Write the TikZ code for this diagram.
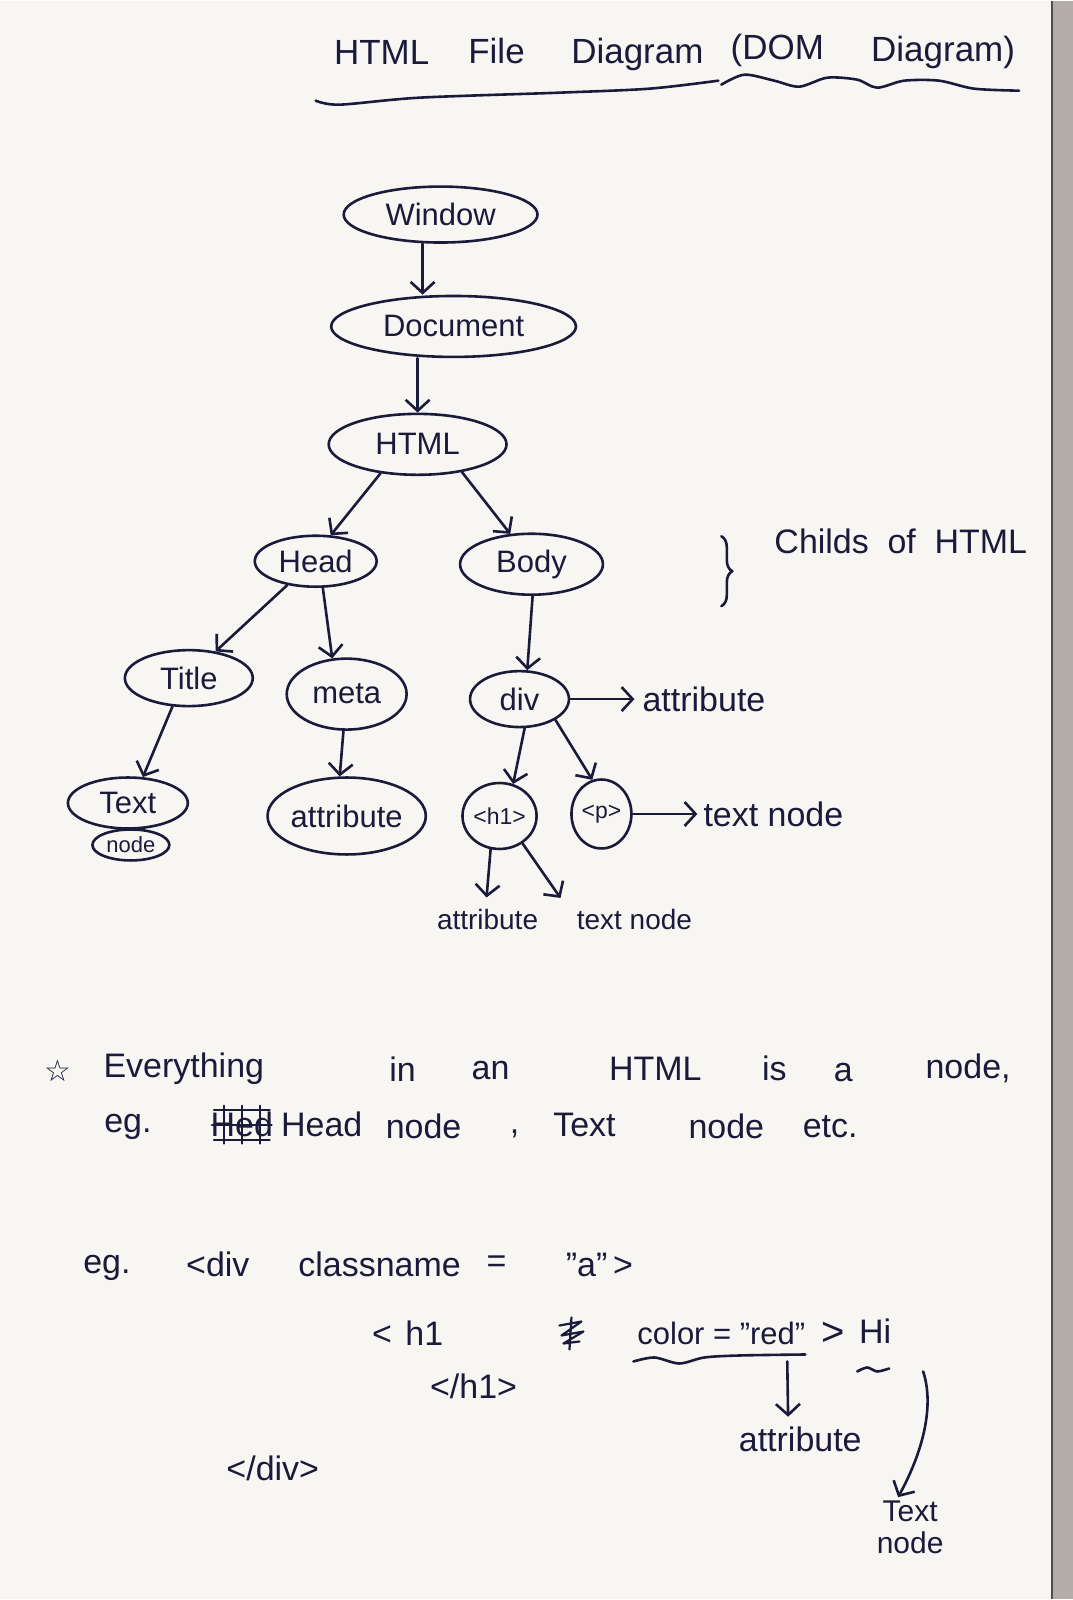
\documentclass[tikz,border=0pt]{standalone}
\usepackage{fontspec}
\setmainfont{Liberation Sans}
\newfontfamily\symfont{DejaVu Sans}
\usetikzlibrary{arrows.meta,shapes.geometric,decorations.pathreplacing}
\definecolor{ink}{RGB}{26,26,58}
\definecolor{paper}{RGB}{247,246,243}
\definecolor{edge}{RGB}{178,173,166}
\begin{document}
\begin{tikzpicture}[x=1pt,y=-1pt,
  bub/.style={draw=ink, line width=2.6pt, ellipse, inner sep=0pt, text=ink,
              font=\fontsize{31}{34}\selectfont},
  lbl/.style={text=ink, inner sep=0pt, font=\fontsize{34}{38}\selectfont},
  sml/.style={text=ink, inner sep=0pt, font=\fontsize{28}{32}\selectfont},
  big/.style={text=ink, inner sep=0pt, font=\fontsize{35}{40}\selectfont},
  pen/.style={draw=ink, line width=2.6pt, line cap=round, line join=round},
  arr/.style={pen, -{Straight Barb[length=11pt,width=24pt,line width=2.6pt]}}
]
\fill[paper] (0,0) rectangle (1074,1600);
\fill[edge] (1053,0) rectangle (1074,1600);
\draw[black!70, line width=1.5pt] (1053,0) -- (1053,1600);
\useasboundingbox (0,0) rectangle (1074,1600);

% ---------- title ----------
\node[big] (t1) at (382,52) {HTML};
\node[big] (t2) at (497,50) {File};
\node[big] (t3) at (638,54) {Diagram};
\node[big] (t4) at (778,50) {(DOM};
\node[big] (t5) at (944,52) {Diagram)};
\draw[pen] plot[smooth] coordinates {(316,100) (340,104) (420,97) (560,92) (650,88) (719,80)};
\draw[pen] plot[smooth] coordinates {(722,84) (745,74) (775,80) (800,86) (828,77) (858,79) (878,87) (905,80) (940,80) (975,88) (1020,90)};

% ---------- tree ----------
\node[bub, minimum width=194pt, minimum height=56pt] (window) at (441,214) {Window};
\node[bub, minimum width=245pt, minimum height=61pt] (document) at (454,326) {Document};
\node[bub, minimum width=178pt, minimum height=61pt] (html) at (418,444) {HTML};
\node[bub, minimum width=122pt, minimum height=51pt] (head) at (316,561) {Head};
\node[bub, minimum width=143pt, minimum height=61pt] (body) at (532,564) {Body};
\node[bub, minimum width=128pt, minimum height=56pt] (title) at (189,678) {Title};
\node[bub, minimum width=120pt, minimum height=71pt] (meta) at (347,694) {meta};
\node[bub, minimum width=99pt, minimum height=56pt] (div) at (520,699) {div};
\node[bub, minimum width=120pt, minimum height=51pt] (text) at (128,803) {Text};
\node[bub, minimum width=77pt, minimum height=31pt, font=\fontsize{22}{24}\selectfont] (tnode) at (131,845) {node};
\node[bub, minimum width=150pt, minimum height=77pt] (attr) at (347,816) {attribute};
\node[bub, minimum width=60pt, minimum height=66pt, font=\fontsize{23}{25}\selectfont] (h1) at (500,816) {<h1>};
\node[bub, minimum width=60pt, minimum height=69pt, font=\fontsize{23}{25}\selectfont] (p) at (602,814) {<p>};

\node[lbl, anchor=west] (childs) at (775,541) {Childs\hspace{0.55em}of\hspace{0.55em}HTML};
\draw[pen, decorate, decoration={brace, amplitude=11pt}] (722,536) -- (722,606);

\node[lbl, anchor=west] (divattr) at (643,699) {attribute};
\node[lbl, anchor=west] (ptext) at (704,814) {text node};
\node[sml] (h1attr) at (488,920) {attribute};
\node[sml] (h1text) at (635,920) {text node};

\draw[arr] ([xshift=-18pt]window.south) -- ([xshift=-31pt]document.north);
\draw[arr] ([xshift=-36pt]document.south) -- (html.north);
\draw[arr] (html.218) -- (head.60);
\draw[arr] (html.-32) -- (body.125);
\draw[arr] (head.220) -- (title.45);
\draw[arr] (head.-75) -- (meta.112);
\draw[arr] (body.-88) -- (div.75);
\draw[arr] (title.240) -- (text.60);
\draw[arr] (meta.-95) -- (attr.100);
\draw[arr] (div.-80) -- (h1.67);
\draw[arr] (div.-30) -- (p.105);
\draw[arr, shorten >=8pt] (div.east) -- (divattr.west);
\draw[arr, shorten >=6pt] (p.east) -- (ptext.west);
\draw[arr, shorten >=12pt] (h1.-105) -- ([xshift=-2pt]h1attr.north);
\draw[arr, shorten >=14pt] (h1.-50) -- ([xshift=-66pt]h1text.north);

% ---------- notes ----------
\node[lbl, font=\symfont\fontsize{30}{34}\selectfont] (star) at (58,1071) {☆};
\node[lbl] (w1) at (184,1069) {Everything};
\node[lbl] (w2) at (403,1069) {in};
\node[lbl] (w3) at (491,1071) {an};
\node[lbl] (w4) at (656,1069) {HTML};
\node[lbl] (w5) at (775,1069) {is};
\node[lbl] (w6) at (844,1073) {a};
\node[lbl] (w7) at (969,1069) {node,};

\node[lbl] (e1) at (128,1127) {eg.};
\node[lbl] (hed) at (242,1125) {Hed};
\draw[pen, line width=2pt] (214,1110) -- (270,1110) (212,1125) -- (272,1125) (214,1140) -- (270,1140)
  (224,1106) -- (224,1144) (242,1106) -- (242,1144) (260,1106) -- (260,1144);
\node[lbl] (e2) at (322,1125) {Head};
\node[lbl] (e3) at (424,1127) {node};
\node[lbl] (e4) at (515,1134) {,};
\node[lbl] (e5) at (585,1125) {Text};
\node[lbl] (e6) at (727,1127) {node};
\node[lbl] (e7) at (831,1127) {etc.};

\node[lbl] (g1) at (107,1268) {eg.};
\node[lbl] (g2) at (218,1265) {<div};
\node[lbl] (g3) at (380,1265) {classname};
\node[lbl] (g4) at (497,1265) {=};
\node[lbl] (g5) at (600,1265) {"a"\,>};

\node[lbl] (h1open) at (408,1334) {<\hspace{0.4em}h1};
\draw[pen, line width=2.2pt] (560,1326) -- (582,1322) -- (562,1336) -- (584,1332) -- (564,1344) -- (580,1342)
  (572,1318) -- (570,1350);
\node[lbl, font=\fontsize{31}{34}\selectfont] (colr) at (722,1334) {color = "red"};
\node[lbl, font=\fontsize{40}{44}\selectfont] (gt) at (834,1334) {>};
\node[lbl] (hi) at (876,1332) {Hi};
\draw[pen] plot[smooth] coordinates {(634,1362) (655,1358) (680,1364) (705,1358) (740,1356) (806,1355)};
\draw[pen] plot[smooth] coordinates {(858,1372) (868,1368) (878,1372) (890,1369)};
\node[lbl] (h1close) at (474,1387) {</h1>};
\node[lbl] (divclose) at (273,1469) {</div>};
\node[lbl] (colattr) at (801,1440) {attribute};
\node[lbl, align=center, font=\fontsize{30}{32}\selectfont] (hitext) at (911,1528) {Text\\node};

\draw[arr, shorten >=10pt] ([xshift=66pt,yshift=-28pt]colr.center) -- ([xshift=-12pt]colattr.north);
\draw[arr, shorten >=4pt] ([xshift=48pt,yshift=-40pt]hi.center) .. controls (935,1405) and (925,1450) .. ([xshift=-14pt]hitext.north);
\end{tikzpicture}
\end{document}
